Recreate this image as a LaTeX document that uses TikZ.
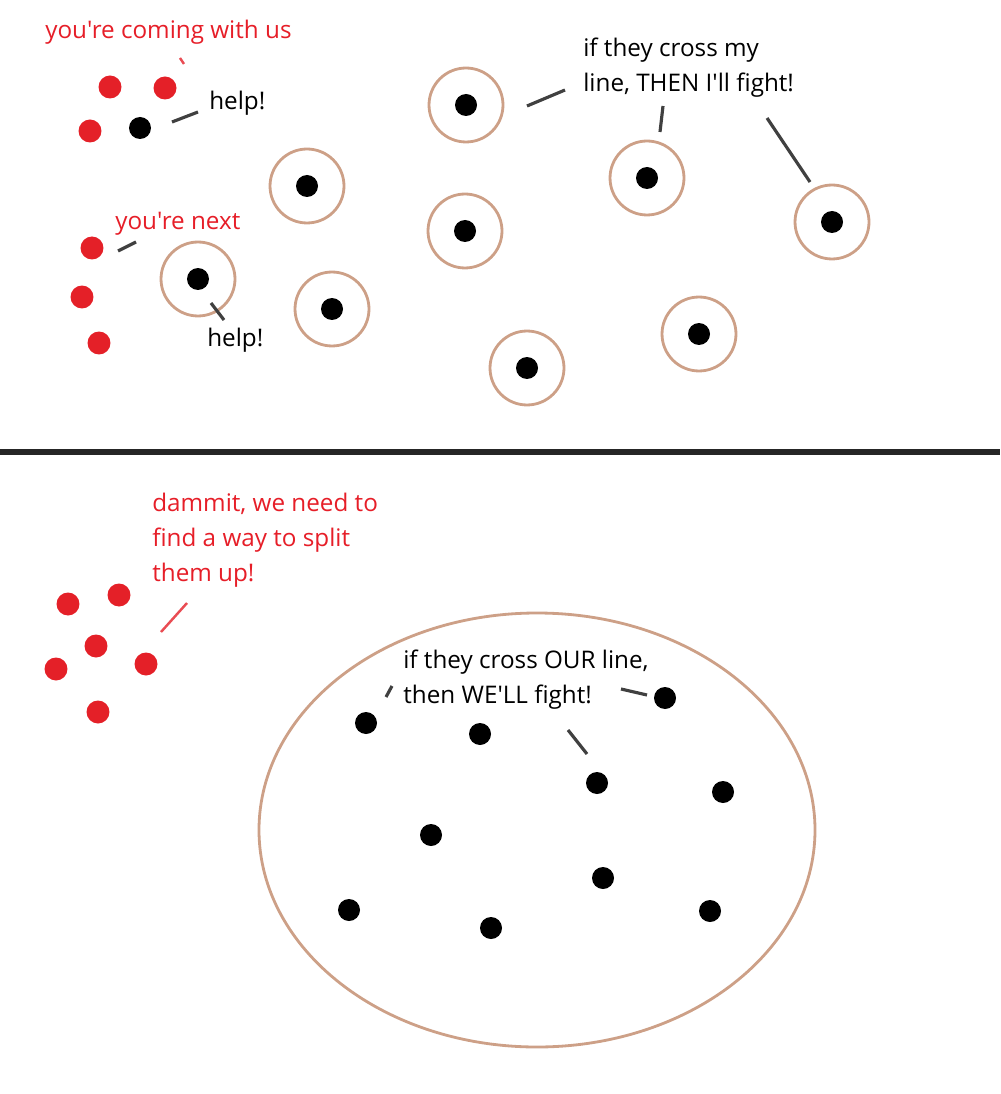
\documentclass[tikz,border=0pt]{standalone}
\usepackage{fontspec}
\setmainfont[Ligatures=TeXOff]{Open Sans}
\newcommand\apos{\symbol{39}}
\definecolor{ringbrown}{RGB}{205,160,135}
\definecolor{talkred}{RGB}{230,30,40}
\definecolor{dotred}{RGB}{228,32,40}
\tikzset{
  reddot/.style={circle, fill=dotred, minimum size=0.46cm, inner sep=0pt},
  blackdot/.style={circle, fill=black, minimum size=0.44cm, inner sep=0pt},
  ring/.style={circle, draw=ringbrown, line width=1.6pt, minimum size=1.48cm, inner sep=0pt},
  talk/.style={font=\fontsize{13.8}{20}\selectfont, align=left, anchor=west, inner sep=0pt},
  tick/.style={line width=1.8pt, black!75},
  redtick/.style={line width=1.4pt, dotred!80}
}
\begin{document}
\begin{tikzpicture}[x=0.02cm, y=-0.02cm]
		\useasboundingbox (0,0) rectangle (1000,1094);
		% top panel
		\foreach \px/\py [count=\i] in {110/87, 165/88, 90/131, 92/248, 82/297, 99/343}
		\node [reddot] (r\i) at (\px,\py) {};
		\node [blackdot] (lone) at (140,128) {};
		\foreach \px/\py [count=\i] in {466/105, 307/186, 465/231, 647/178, 832/222, 198/279, 332/309, 699/334, 527/368}
		{
			\node [ring] (ring\i) at (\px,\py) {};
			\node [blackdot] (c\i) at (\px,\py) {};
		}
		
		\node [talk, text=talkred] (coming) at (45,32) {you\apos re coming with us};
		\node [talk] (help1) at (209,103) {help!};
		\node [talk, text=talkred] (next) at (115,224) {you\apos re next};
		\node [talk] (help2) at (207,340) {help!};
		\node [talk] (mine) at (583,68) {if they cross my\\line, THEN I\apos ll fight!};
		
		\draw [redtick] (180,58) -- (184,64);
		\draw [tick] (172,122) -- (198,112);
		\draw [tick] (118,251) -- (136,242);
		\draw [tick] (211,303) -- (224,320);
		\draw [tick] (527,106) -- (565,90);
		\draw [tick] (660,132) -- (663,106);
		\draw [tick] (767,118) -- (810,182);
		
		% divider
		\draw [line width=3pt, black!85] (0,452) -- (1000,452);
		
		% bottom panel
		\foreach \px/\py [count=\i] in {68/604, 119/595, 96/646, 56/669, 146/664, 98/712}
		\node [reddot] (g\i) at (\px,\py) {};
		\node [talk, text=talkred] (dammit) at (152,540) {dammit, we need to\\find a way to split\\them up!};
		\draw [redtick] (161,632) -- (187,603);
		
		\draw [ringbrown, line width=1.6pt] (537,830) ellipse [x radius=278, y radius=217];
		\foreach \px/\py [count=\i] in {366/723, 480/734, 665/698, 597/783, 723/792, 431/835, 603/878, 349/910, 491/928, 710/911}
		\node [blackdot] (b\i) at (\px,\py) {};
		\node [talk] (ours) at (403,680) {if they cross OUR line,\\then WE\apos LL fight!};
		\draw [tick] (386,697) -- (392,686);
		\draw [tick] (621,689) -- (647,695);
		\draw [tick] (568,730) -- (587,754);
\end{tikzpicture}
\end{document}
